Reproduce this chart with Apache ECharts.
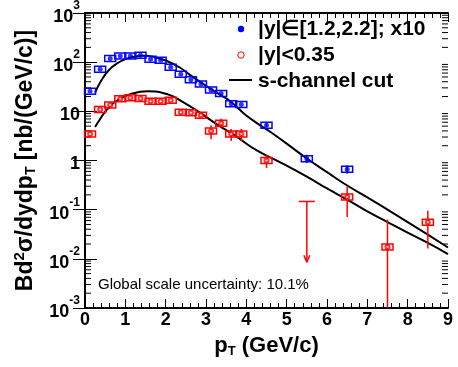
<!DOCTYPE html>
<html>
<head>
<meta charset="utf-8">
<script src="https://cdn.jsdelivr.net/npm/echarts@6/dist/echarts.min.js"></script>
<style>
  html, body { margin: 0; padding: 0; background: #fff; }
  #main { width: 458px; height: 367px; }
</style>
</head>
<body>
<div id="main"></div>
<script>
// |y| in [1.2,2.2], x10 (blue)
const bluePt = [0.125, 0.375, 0.625, 0.875, 1.125, 1.375, 1.625, 1.875, 2.125, 2.375, 2.625, 2.875, 3.125, 3.375, 3.625, 3.875, 4.5, 5.5, 6.5];
const blueVal = [25.6, 72, 119, 133, 133, 139, 114, 110, 79, 57, 44, 36, 27, 23, 14.3, 13.8, 5.2, 1.09, 0.665];
const blueLo = [0, 0, 0, 0, 0, 0, 0, 0, 0, 0, 0, 0, 0, 0, 0, 0, 4.8, 0.89, 0.54];
const blueHi = [0, 0, 0, 0, 0, 0, 0, 0, 0, 0, 0, 0, 0, 0, 0, 0, 5.6, 1.31, 0.80];

// |y| < 0.35 (red)
const redPt = [0.125, 0.375, 0.625, 0.875, 1.125, 1.375, 1.625, 1.875, 2.125, 2.375, 2.625, 2.875, 3.125, 3.375, 3.625, 3.875, 4.5, 6.5, 7.5, 8.5];
const redVal = [3.45, 10.9, 13.4, 18, 18.8, 18.2, 16.1, 16.1, 16.9, 9.6, 9.4, 8.3, 4.0, 5.7, 3.45, 3.45, 1.0, 0.18, 0.0175, 0.0557];
const redLo = [0, 0, 0, 0, 0, 0, 0, 0, 0, 0, 0, 0, 2.7, 4.7, 2.5, 2.5, 0.7, 0.071, 0.001, 0.0162];
const redHi = [0, 0, 0, 0, 0, 0, 0, 0, 0, 0, 0, 0, 5.2, 7.1, 4.35, 4.4, 1.3, 0.295, 0.063, 0.095];
// upper limit: [pT, limit, arrow tip]
const redLimit = [[5.5, 0.147, 0.0085]];

// s-channel cut curves
const curveHiPt = [0.25, 0.4, 0.6, 0.8, 1.0, 1.2, 1.45, 1.7, 2.0, 2.36, 2.6, 3.0, 3.4, 3.6, 3.8, 4.0, 4.3, 4.6, 5.0, 5.5, 6.0, 6.5, 7.0, 7.5, 8.0, 8.5, 9.0];
const curveHiVal = [24, 42, 70, 95, 115, 128, 135, 128, 108, 77, 55, 33, 20.5, 16, 11.5, 8.2, 5.5, 3.8, 2.2, 1.1, 0.58, 0.31, 0.178, 0.10, 0.056, 0.031, 0.017];
const curveLoPt = [0.25, 0.4, 0.55, 0.83, 1.17, 1.55, 2.07, 2.4, 2.85, 3.26, 3.72, 4.26, 4.83, 5.5, 6.0, 6.5, 7.0, 7.5, 8.0, 8.5, 9.0];
const curveLoVal = [4.8, 7.5, 11, 17.4, 23, 25.5, 21.9, 16, 9.4, 5.5, 3.2, 1.6, 0.93, 0.47, 0.27, 0.16, 0.092, 0.056, 0.034, 0.021, 0.0125];

// log axis minor ticks
const decades = [-3, -2, -1, 0, 1, 2];
const minorMult = [2, 3, 4, 5, 6, 7, 8, 9];

const FONT = 'Liberation Sans, Arial, Helvetica, sans-serif';

const minorTicks = [];
decades.forEach(function (d) {
  minorMult.forEach(function (m) { minorTicks.push([0, m * Math.pow(10, d)]); });
});

function pack(pt, val, lo, hi) {
  return pt.map(function (x, i) { return [x, val[i], lo ? lo[i] : 0, hi ? hi[i] : 0]; });
}

function boxItem(color) {
  return function (params, api) {
    const x = api.value(0);
    const c = api.coord([x, api.value(1)]);
    const lo = api.value(2), hi = api.value(3);
    const children = [];
    if (lo > 0) {
      const a = api.coord([x, lo]), b = api.coord([x, hi]);
      children.push({ type: 'line', shape: { x1: c[0], y1: a[1], x2: c[0], y2: b[1] },
        style: { stroke: color, lineWidth: 1.5 } });
    }
    children.push({ type: 'rect', shape: { x: c[0] - 5.5, y: c[1] - 3, width: 11, height: 6 },
      style: { fill: 'none', stroke: color, lineWidth: 1.5 } });
    return { type: 'group', children: children };
  };
}

const chart = echarts.init(document.getElementById('main'));

const axisLineStyle = { color: '#000', width: 2 };

const option = {
  backgroundColor: '#fff',
  animation: false,
  grid: { left: 85, right: 10, top: 8, bottom: 59 },
  xAxis: [{
    type: 'value', min: 0, max: 9, interval: 1, position: 'bottom',
    axisLine: { lineStyle: axisLineStyle },
    axisTick: { inside: true, length: 9, lineStyle: { color: '#000', width: 1 } },
    minorTick: { show: true, splitNumber: 5, length: 5, lineStyle: { color: '#000', width: 1 } },
    splitLine: { show: false },
    axisLabel: { color: '#000', fontFamily: FONT, fontWeight: 'bold', fontSize: 18, margin: 3 },
    name: '{t|p}{sub|T}{t| (GeV/c)}',
    nameLocation: 'middle', nameGap: 25,
    nameTextStyle: {
      rich: {
        t: { fontFamily: FONT, fontWeight: 'bold', fontSize: 22, color: '#000' },
        sub: { fontFamily: FONT, fontWeight: 'bold', fontSize: 13, color: '#000', verticalAlign: 'bottom', padding: [12, 0, 0, 0] }
      }
    }
  }, {
    type: 'value', min: 0, max: 9, interval: 1, position: 'top',
    axisLine: { lineStyle: axisLineStyle },
    axisTick: { inside: true, length: 9, lineStyle: { color: '#000', width: 1 } },
    minorTick: { show: true, splitNumber: 5, length: 5, lineStyle: { color: '#000', width: 1 } },
    splitLine: { show: false },
    axisLabel: { show: false }
  }],
  yAxis: [{
    type: 'log', logBase: 10, min: 0.001, max: 1000, splitNumber: 6, position: 'left',
    axisLine: { lineStyle: axisLineStyle },
    axisTick: { inside: true, length: 12, lineStyle: { color: '#000', width: 1 } },
    splitLine: { show: false },
    axisLabel: {
      margin: 5,
      formatter: function (v) {
        const e = Math.round(Math.log10(v));
        if (e === 0) return '{b|1}';
        if (e === 1) return '{b|10}';
        return '{b|10}{s|' + e + '}';
      },
      rich: {
        b: { fontFamily: FONT, fontWeight: 'bold', fontSize: 18, color: '#000', padding: [8, 0, 0, 0] },
        s: { fontFamily: FONT, fontWeight: 'bold', fontSize: 12, color: '#000', verticalAlign: 'top' }
      }
    },
    name: '{t|Bd}{sup|2}{t|σ/dydp}{sub|T}{t| [nb/(GeV/c)]}',
    nameLocation: 'middle', nameGap: 42, nameRotate: 90,
    nameTextStyle: {
      rich: {
        t: { fontFamily: FONT, fontWeight: 'bold', fontSize: 23, color: '#000' },
        sup: { fontFamily: FONT, fontWeight: 'bold', fontSize: 15, color: '#000', verticalAlign: 'top' },
        sub: { fontFamily: FONT, fontWeight: 'bold', fontSize: 14, color: '#000', verticalAlign: 'bottom', padding: [12, 0, 0, 0] }
      }
    }
  }, {
    type: 'log', logBase: 10, min: 0.001, max: 1000, splitNumber: 6, position: 'right',
    axisLine: { lineStyle: axisLineStyle },
    axisTick: { inside: true, length: 12, lineStyle: { color: '#000', width: 1 } },
    splitLine: { show: false },
    axisLabel: { show: false }
  }],
  graphic: [
    { type: 'circle', shape: { cx: 241, cy: 29, r: 3.2 }, style: { fill: '#0000ff' } },
    { type: 'text', style: { x: 258, y: 29, text: '|y|∈[1.2,2.2]; x10', font: 'bold 21px ' + FONT, fill: '#000', verticalAlign: 'middle' } },
    { type: 'circle', shape: { cx: 241, cy: 55, r: 3.2 }, style: { fill: '#fff', stroke: '#ff0000', lineWidth: 1 } },
    { type: 'text', style: { x: 258, y: 55, text: '|y|<0.35', font: 'bold 21px ' + FONT, fill: '#000', verticalAlign: 'middle' } },
    { type: 'line', shape: { x1: 229, y1: 80, x2: 252, y2: 80 }, style: { stroke: '#000', lineWidth: 2 } },
    { type: 'text', style: { x: 258, y: 81, text: 's-channel cut', font: 'bold 21px ' + FONT, fill: '#000', verticalAlign: 'middle' } },
    { type: 'text', style: { x: 98, y: 285, text: 'Global scale uncertainty: 10.1%', font: '15px ' + FONT, fill: '#000', verticalAlign: 'middle' } }
  ],
  series: [
    {
      name: 'minor ticks', type: 'custom', silent: true, data: minorTicks,
      renderItem: function (params, api) {
        const l = api.coord([0, api.value(1)]);
        const r = api.coord([9, api.value(1)]);
        return { type: 'group', children: [
          { type: 'line', shape: { x1: l[0], y1: l[1], x2: l[0] + 6, y2: l[1] }, style: { stroke: '#000', lineWidth: 1 } },
          { type: 'line', shape: { x1: r[0], y1: r[1], x2: r[0] - 6, y2: r[1] }, style: { stroke: '#000', lineWidth: 1 } }
        ] };
      }
    },
    {
      name: 's-channel cut', type: 'line', smooth: true, showSymbol: false, silent: true,
      data: curveHiPt.map(function (x, i) { return [x, curveHiVal[i]]; }),
      lineStyle: { color: '#000', width: 2 }, z: 3
    },
    {
      name: 's-channel cut low', type: 'line', smooth: true, showSymbol: false, silent: true,
      data: curveLoPt.map(function (x, i) { return [x, curveLoVal[i]]; }),
      lineStyle: { color: '#000', width: 2 }, z: 3
    },
    {
      name: 'blue sys', type: 'custom', data: pack(bluePt, blueVal, blueLo, blueHi),
      renderItem: boxItem('#0000ff'), z: 4
    },
    {
      name: 'red sys', type: 'custom', data: pack(redPt, redVal, redLo, redHi),
      renderItem: boxItem('#ff0000'), z: 4
    },
    {
      name: 'red limit', type: 'custom', data: redLimit, z: 4,
      renderItem: function (params, api) {
        const x = api.value(0);
        const top = api.coord([x, api.value(1)]);
        const tip = api.coord([x, api.value(2)]);
        const st = { stroke: '#ff0000', lineWidth: 1.5 };
        return { type: 'group', children: [
          { type: 'line', shape: { x1: top[0] - 8, y1: top[1], x2: top[0] + 8, y2: top[1] }, style: st },
          { type: 'line', shape: { x1: top[0], y1: top[1], x2: tip[0], y2: tip[1] }, style: st },
          { type: 'line', shape: { x1: tip[0] - 3, y1: tip[1] - 7, x2: tip[0], y2: tip[1] }, style: st },
          { type: 'line', shape: { x1: tip[0] + 3, y1: tip[1] - 7, x2: tip[0], y2: tip[1] }, style: st }
        ] };
      }
    },
    {
      name: '|y|∈[1.2,2.2]; x10', type: 'scatter', symbol: 'circle', symbolSize: 5,
      data: bluePt.map(function (x, i) { return [x, blueVal[i]]; }),
      itemStyle: { color: '#0000ff' }, z: 5
    },
    {
      name: '|y|<0.35', type: 'scatter', symbol: 'emptyCircle', symbolSize: 4,
      data: redPt.map(function (x, i) { return [x, redVal[i]]; }),
      itemStyle: { color: '#ff0000', borderWidth: 1 }, z: 5
    }
  ]
};

chart.setOption(option);
</script>
</body>
</html>
